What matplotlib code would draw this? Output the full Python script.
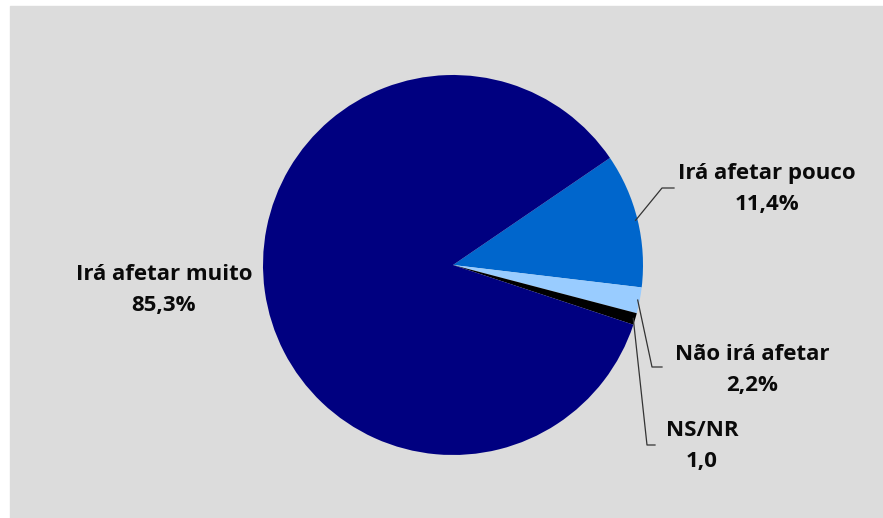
import math
import matplotlib.pyplot as plt
from matplotlib.patches import Rectangle

labels = ['Irá afetar pouco', 'Não irá afetar', 'NS/NR', 'Irá afetar muito']
values = [11.4, 2.2, 1.0, 85.3]
value_text = ['11,4%', '2,2%', '1,0', '85,3%']
colors = ['#0066cc', '#99ccff', '#000000', '#000080']

W, H = 883, 518
cx, cy, r = 453, H - 265, 190

fig = plt.figure(figsize=(W / 100, H / 100), dpi=100)
fig.patch.set_facecolor('white')
ax = fig.add_axes([0, 0, 1, 1])
ax.add_patch(Rectangle((10, 0), W - 10, H - 6, color='#dcdcdc', zorder=0))

start = 34.3
wedges, _ = ax.pie(values, colors=colors, startangle=start, counterclock=False,
                   center=(cx, cy), radius=r, frame=True,
                   wedgeprops=dict(linewidth=0))
ax.set_xlim(0, W)
ax.set_ylim(0, H)
ax.axis('off')

font = dict(family=['Open Sans', 'DejaVu Sans'], fontweight='bold', fontsize=16,
            color='#0a0a0a', ha='center', va='center', linespacing=1.6)

# label positions (text centre) and leader elbow points, in pixels from top-left
label_pos = [(767, 189), (752, 370), (702, 446), (164, 290)]
elbows = [[(662, 188), (674, 188)], [(652, 367), (662, 367)],
          [(647, 445), (655, 445)], None]

for i, w in enumerate(wedges):
    mid = math.radians((w.theta1 + w.theta2) / 2)
    x0 = cx + (r - 2) * math.cos(mid)
    y0 = cy + (r - 2) * math.sin(mid)
    if elbows[i]:
        xs = [x0] + [p[0] for p in elbows[i]]
        ys = [y0] + [H - p[1] for p in elbows[i]]
        ax.plot(xs, ys, color='#333333', linewidth=0.9, zorder=3)
    tx, ty = label_pos[i]
    ax.text(tx, H - ty, labels[i] + '\n' + value_text[i], **font)

fig.savefig('out.png', dpi=100, facecolor=fig.get_facecolor())
